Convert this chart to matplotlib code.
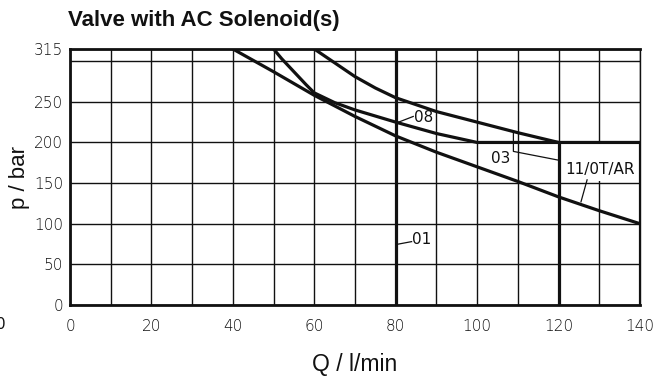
import matplotlib
matplotlib.use("Agg")
import matplotlib.pyplot as plt
from matplotlib.patches import Rectangle

# curves (Q in l/min, p in bar)
q_11 = [40, 50, 60, 70, 80, 90, 100, 110, 120, 130, 140]
p_11 = [315, 287, 258, 232, 208, 188, 170, 152, 133, 116, 100]

q_08 = [50, 52, 55, 58, 60, 65, 70, 80, 90, 100, 140]
p_08 = [315, 303, 287, 271, 261, 249, 240, 225, 211, 200, 200]

q_03 = [60, 65, 70, 75, 80, 90, 100, 110, 120]
p_03 = [315, 298, 281, 267, 255, 238, 225, 212, 200]

# vertical flow limits (Q, p top)
limit_q = [80, 120, 140]
limit_p = [315, 200, 200]

x_ticks = [0, 20, 40, 60, 80, 100, 120, 140]
y_ticks = [0, 50, 100, 150, 200, 250, 300, 315]
y_labels = ["0", "50", "100", "150", "200", "250", "", "315"]

ink = "#111111"
tick_font = "DejaVu Sans"

fig = plt.figure(figsize=(6.66, 3.76), dpi=100)
ax = fig.add_axes([0.1051, 0.1888, 0.8559, 0.6809])

ax.set_xlim(0, 140)
ax.set_ylim(0, 315)
ax.set_xticks(x_ticks)
ax.set_xticks(range(0, 141, 10), minor=True)
ax.set_yticks(y_ticks)
ax.set_yticklabels(y_labels)
ax.tick_params(which="both", length=0, colors=ink)
ax.tick_params(axis="x", pad=10, labelsize=11)
ax.tick_params(axis="y", pad=5, labelsize=11)
for lab in ax.get_xticklabels() + ax.get_yticklabels():
    lab.set_fontfamily(tick_font)
    lab.set_fontweight("light")
ax.grid(which="both", color=ink, linewidth=1.0)
ax.set_axisbelow(True)
for side in ["left", "bottom", "top"]:
    ax.spines[side].set_linewidth(2.0)
    ax.spines[side].set_color(ink)
ax.spines["right"].set_linewidth(1.0)
ax.spines["right"].set_color(ink)

# blank field behind the 11/0T/AR label
ax.add_patch(Rectangle((121, 152), 18, 46, facecolor="white", edgecolor="none", zorder=1.5))

lw = 2.3
ax.plot(q_11, p_11, color=ink, lw=lw, solid_capstyle="butt", zorder=3)
ax.plot(q_08, p_08, color=ink, lw=lw, solid_capstyle="butt", zorder=3)
ax.plot(q_03, p_03, color=ink, lw=lw, solid_capstyle="butt", zorder=3)
ax.vlines(limit_q, 0, limit_p, color=ink, lw=lw, zorder=3)

# leaders and labels
ax.plot([80.7, 84.3], [225, 232], color=ink, lw=0.9, zorder=3)
ax.text(84.5, 231, "08", fontsize=11, fontfamily=tick_font, va="center", ha="left", color=ink)
ax.plot([80.7, 83.9], [75, 78], color=ink, lw=0.9, zorder=3)
ax.text(84.1, 80, "01", fontsize=11, fontfamily=tick_font, va="center", ha="left", color=ink)
ax.plot([108.9, 108.9, 120.2], [212, 189, 178], color=ink, lw=0.9, zorder=3)
ax.text(105.9, 180, "03", fontsize=11, fontfamily=tick_font, va="center", ha="center", color=ink)
ax.plot([127.0, 125.5], [154, 127], color=ink, lw=0.9, zorder=3)
ax.text(130.2, 167, "11/0T/AR", fontsize=11, fontfamily=tick_font, va="center", ha="center", color=ink)

ax.set_xlabel("Q / l/min", fontsize=16.5, fontfamily="Liberation Sans", labelpad=14, color=ink)
ax.set_ylabel("p / bar", fontsize=16, fontfamily="Liberation Sans", labelpad=3, color=ink)
fig.text(0.1021, 0.945, "Valve with AC Solenoid(s)", fontsize=16, fontweight="bold",
         fontfamily="Liberation Sans", ha="left", va="center", color=ink)
# stray label cut off at the left edge of the scan
fig.text(-0.006, 0.137, "0", fontsize=11, fontfamily=tick_font, ha="left", va="center", color=ink)

fig.savefig("out.png", dpi=100)
